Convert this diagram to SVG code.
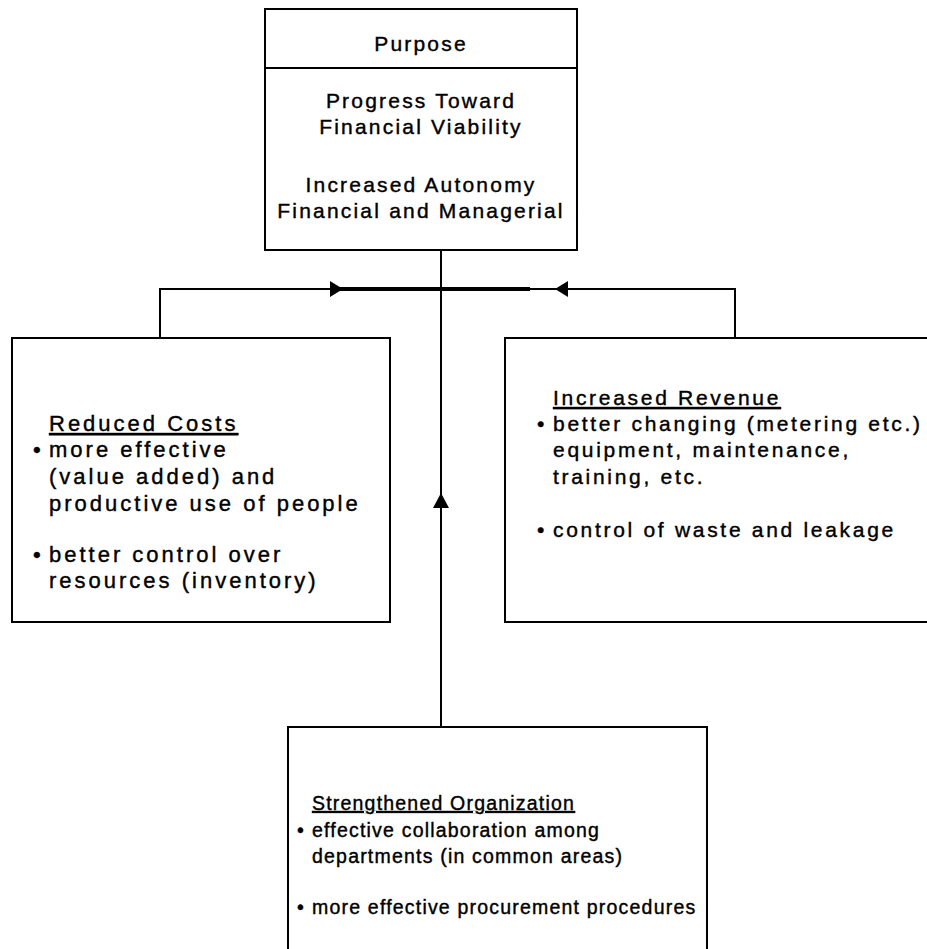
<svg xmlns="http://www.w3.org/2000/svg" width="927" height="949" viewBox="0 0 927 949">
<style>
.box{fill:#fff;stroke:#000;stroke-width:2}
.ln{fill:none;stroke:#000;stroke-width:2}
.thick{fill:none;stroke:#000;stroke-width:4}
text{font-family:"Liberation Sans",Arial,sans-serif;font-size:21px;fill:#000;stroke:#000;stroke-width:0.4;letter-spacing:2.2px}
.lt{font-size:22px;letter-spacing:3px}
.rt{font-size:21px;letter-spacing:2.7px}
.bt{font-size:19.5px;letter-spacing:1.2px}
.c{text-anchor:middle}
.u{text-decoration:underline}
.ah{fill:#000;stroke:none}
</style>
<rect width="927" height="949" fill="#fff"/>
<g id="connectors">
<line class="ln" x1="441" y1="250" x2="441" y2="727"/>
<line class="ln" x1="160" y1="289" x2="735" y2="289"/>
<line class="thick" x1="330" y1="289" x2="530" y2="289"/>
<line class="ln" x1="160" y1="288" x2="160" y2="338"/>
<line class="ln" x1="735" y1="288" x2="735" y2="338"/>
<polygon class="ah" points="343,289 330,281 330,297"/>
<polygon class="ah" points="555,289 568,281 568,297"/>
<polygon class="ah" points="441,493 433,508 449,508"/>
</g>
<g id="purpose">
<rect class="box" x="265" y="9" width="312" height="241"/>
<line class="ln" x1="265" y1="68" x2="577" y2="68"/>
<text class="c" x="421" y="51">Purpose</text>
<text class="c" x="421" y="108">Progress Toward</text>
<text class="c" x="421" y="134">Financial Viability</text>
<text class="c" x="421" y="192">Increased Autonomy</text>
<text class="c" x="421" y="218">Financial and Managerial</text>
</g>
<g id="reduced-costs">
<rect class="box" x="12" y="338" width="378" height="284"/>
<text class="lt u" x="49" y="431">Reduced Costs</text>
<text class="lt" x="33" y="457">•</text>
<text class="lt" x="49" y="457">more effective</text>
<text class="lt" x="49" y="484">(value added) and</text>
<text class="lt" x="49" y="511">productive use of people</text>
<text class="lt" x="33" y="562">•</text>
<text class="lt" x="49" y="562">better control over</text>
<text class="lt" x="49" y="588">resources (inventory)</text>
</g>
<g id="increased-revenue">
<rect class="box" x="505" y="338" width="440" height="284"/>
<text class="rt u" x="553" y="405">Increased Revenue</text>
<text class="rt" x="537" y="431">•</text>
<text class="rt" x="553" y="431">better changing (metering etc.)</text>
<text class="rt" x="553" y="457">equipment, maintenance,</text>
<text class="rt" x="553" y="484">training, etc.</text>
<text class="rt" x="537" y="537">•</text>
<text class="rt" x="553" y="537">control of waste and leakage</text>
</g>
<g id="strengthened-organization">
<rect class="box" x="288" y="727" width="419" height="240"/>
<text class="bt u" x="312" y="810">Strengthened Organization</text>
<text class="bt" x="297" y="837">•</text>
<text class="bt" x="312" y="837">effective collaboration among</text>
<text class="bt" x="312" y="863">departments (in common areas)</text>
<text class="bt" x="297" y="914">•</text>
<text class="bt" x="312" y="914">more effective procurement procedures</text>
</g>
</svg>
